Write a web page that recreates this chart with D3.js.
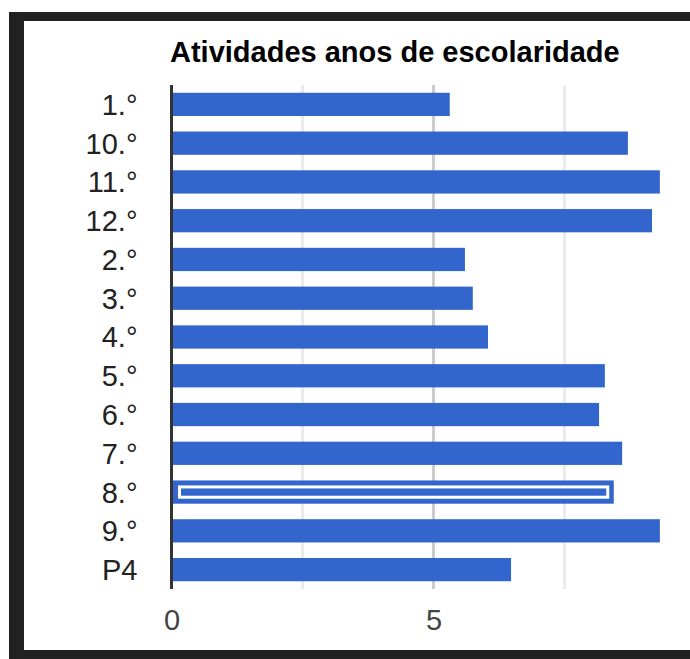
<!DOCTYPE html>
<html>
<head>
<meta charset="utf-8">
<script src="https://cdn.jsdelivr.net/npm/d3@7"></script>
<style>
  html, body { margin: 0; padding: 0; background: #fff; }
  svg { display: block; }
  text { font-family: "Liberation Sans", Arial, sans-serif; }
</style>
</head>
<body>
<div id="chart"></div>
<script>
`use strict`;

const TITLE = `Atividades anos de escolaridade`;

const categories = [`1.°`, `10.°`, `11.°`, `12.°`, `2.°`, `3.°`, `4.°`, `5.°`, `6.°`, `7.°`, `8.°`, `9.°`, `P4`];

const values = [5.31, 8.71, 9.32, 9.17, 5.60, 5.75, 6.04, 8.27, 8.16, 8.60, 8.44, 9.32, 6.48];

const tickLabels = [0, 5];

const majorGrid = [5];

const minorGrid = [2.5, 7.5];

const focused = `8.°`;

(function () {

  const W = 690, H = 659;

  const area = {left: 171.5, right: 695.5, top: 85, bottom: 589};

  let svg = d3.select(`#chart`).append(`svg`)
    .attr(`width`, W)
    .attr(`height`, H);

  // dark frame round the chart
  svg.append(`rect`)
    .attr(`x`, 9).attr(`y`, 12)
    .attr(`width`, W).attr(`height`, H)
    .attr(`fill`, `#212121`);

  svg.append(`rect`)
    .attr(`x`, 24).attr(`y`, 21)
    .attr(`width`, W).attr(`height`, 629)
    .attr(`fill`, `#fff`);

  let x = d3.scaleLinear()
    .domain([0, 10])
    .range([area.left, area.right]);

  let y = d3.scaleBand()
    .domain(categories)
    .range([area.top, area.bottom])
    .paddingInner(.4)
    .paddingOuter(.2);

  let grid = svg.append(`g`).attr(`class`, `grid`);

  grid.selectAll(`line.minor`).data(minorGrid)
    .enter()
    .append(`line`)
    .attr(`class`, `minor`)
    .attr(`x1`, d => x(d)).attr(`x2`, d => x(d))
    .attr(`y1`, area.top).attr(`y2`, area.bottom)
    .attr(`stroke`, `#ebebeb`)
    .style(`stroke-width`, 3);

  grid.selectAll(`line.major`).data(majorGrid)
    .enter()
    .append(`line`)
    .attr(`class`, `major`)
    .attr(`x1`, d => x(d)).attr(`x2`, d => x(d))
    .attr(`y1`, area.top).attr(`y2`, area.bottom)
    .attr(`stroke`, `#cccccc`)
    .style(`stroke-width`, 3);

  let rows = categories.map((c, i) => ({cat: c, val: values[i]}));

  svg.append(`g`).selectAll(`rect`).data(rows)
    .enter()
    .append(`rect`)
    .attr(`x`, x(0))
    .attr(`y`, d => y(d.cat))
    .attr(`width`, d => x(d.val) - x(0))
    .attr(`height`, y.bandwidth())
    .attr(`fill`, `#3366cc`);

  // hover ring on the focused bar
  let F = rows.filter(d => d.cat === focused);

  svg.append(`g`).selectAll(`rect`).data(F)
    .enter()
    .append(`rect`)
    .attr(`x`, x(0) + 8)
    .attr(`y`, d => y(d.cat) + 6.5)
    .attr(`width`, d => x(d.val) - x(0) - 14)
    .attr(`height`, y.bandwidth() - 13)
    .attr(`fill`, `none`)
    .attr(`stroke`, `#fff`)
    .style(`stroke-width`, 3);

  // baseline
  svg.append(`line`)
    .attr(`x1`, x(0)).attr(`x2`, x(0))
    .attr(`y1`, area.top).attr(`y2`, area.bottom)
    .attr(`stroke`, `#333`)
    .style(`stroke-width`, 3);

  let yAxis = d3.axisLeft(y).tickSize(0).tickPadding(34);

  svg.append(`g`)
    .attr(`transform`, `translate(${area.left},0)`)
    .call(yAxis)
    .call(g => g.select(`.domain`).remove())
    .call(g => g.selectAll(`text`)
      .attr(`dy`, `.36em`)
      .style(`font-family`, `"Liberation Sans", Arial, sans-serif`)
      .style(`font-size`, `29px`)
      .attr(`fill`, `#222`));

  let xAxis = d3.axisBottom(x).tickValues(tickLabels).tickSize(0).tickPadding(0).tickFormat(d3.format(`d`));

  svg.append(`g`)
    .attr(`transform`, `translate(0,${area.bottom})`)
    .call(xAxis)
    .call(g => g.select(`.domain`).remove())
    .call(g => g.selectAll(`text`)
      .attr(`y`, 41)
      .attr(`dy`, 0)
      .style(`font-family`, `"Liberation Sans", Arial, sans-serif`)
      .style(`font-size`, `29px`)
      .attr(`fill`, `#444`));

  svg.append(`text`)
    .attr(`x`, 170)
    .attr(`y`, 61.5)
    .style(`font-size`, `29px`)
    .style(`font-weight`, `bold`)
    .attr(`fill`, `#000`)
    .text(TITLE);

})();
</script>
</body>
</html>
